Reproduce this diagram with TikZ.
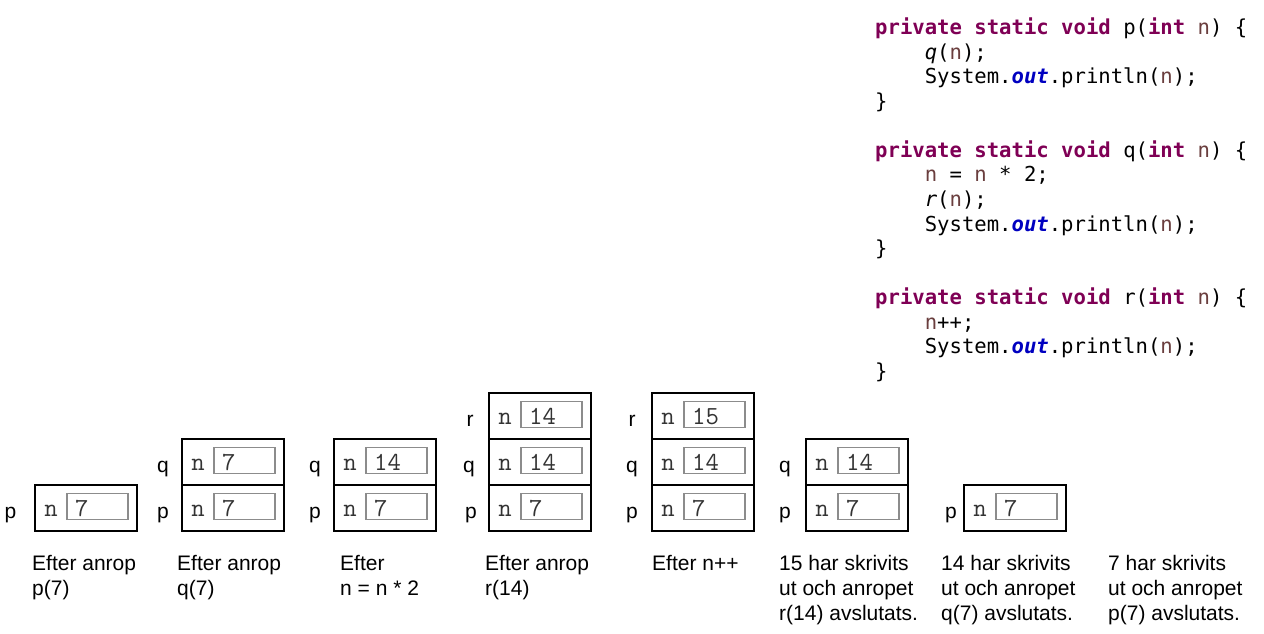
\documentclass[tikz,border=0pt]{standalone}
\usepackage{fontspec}
\setmainfont{Liberation Sans}
\newfontfamily\codefont{DejaVu Sans Mono}
\definecolor{kwc}{HTML}{7F0055}
\definecolor{varc}{HTML}{6A3E3E}
\definecolor{outc}{HTML}{0000C0}
\definecolor{boxgray}{HTML}{8C8C8C}
\newcommand\kw[1]{\textcolor{kwc}{\bfseries #1}}
\newcommand\vn{\textcolor{varc}{n}}
\newcommand\outw{\textcolor{outc}{\bfseries\itshape out}}
\newcommand\ind{\phantom{0000}}
\begin{document}
\begin{tikzpicture}[x=1pt,y=-1pt,
  frm/.style={draw=black, line width=1.3pt, minimum width=102pt, minimum height=46pt, inner sep=0pt, outer sep=0pt},
  valbox/.style={draw=boxgray, line width=1.2pt, minimum width=61pt, minimum height=26pt, inner sep=0pt, outer sep=0pt},
  ntext/.style={font=\ttfamily\fontsize{26}{26}\selectfont, inner sep=0pt, text=black!80},
  valtext/.style={font=\ttfamily\fontsize{26}{26}\selectfont, inner sep=0pt, text=black!80},
  lbl/.style={font=\fontsize{21}{21}\selectfont, inner sep=0pt},
  captext/.style={font=\fontsize{21}{25}\selectfont, align=left, inner sep=0pt, anchor=base west},
  codetext/.style={font=\codefont\fontsize{20.6}{24.57}\selectfont, align=left, inner sep=0pt, anchor=base west}]
\path[use as bounding box] (0,0) rectangle (1264,633);

% code (anchor = baseline of the last line)
\node[codetext] (codep) at (875,108.2) {\kw{private} \kw{static} \kw{void} p(\kw{int} \vn) \{\\
\ind\textit{q}(\vn);\\
\ind System.\outw.println(\vn);\\
\}};
\node[codetext] (codeq) at (875,255.7) {\kw{private} \kw{static} \kw{void} q(\kw{int} \vn) \{\\
\ind\vn{} = \vn{} * 2;\\
\ind\textit{r}(\vn);\\
\ind System.\outw.println(\vn);\\
\}};
\node[codetext] (coder) at (875,378.5) {\kw{private} \kw{static} \kw{void} r(\kw{int} \vn) \{\\
\ind\vn++;\\
\ind System.\outw.println(\vn);\\
\}};

% stacks
\foreach \nm/\x/\y/\v/\lx/\lab in {
  a1p/35/485/7/10.5/p,
  a2q/182/439/7/163/q, a2p/182/485/7/163/p,
  a3q/334/439/14/315/q, a3p/334/485/7/315/p,
  a4r/489/393/14/470/r, a4q/489/439/14/469/q, a4p/489/485/7/471/p,
  a5r/652/393/15/632/r, a5q/652/439/14/632/q, a5p/652/485/7/632/p,
  a6q/806/439/14/785/q, a6p/806/485/7/785/p,
  a7p/964/485/7/951/p}{
  \node[frm, anchor=north west] (\nm) at (\x,\y) {};
  \node[valbox, anchor=north west] (\nm v) at (\x+32,\y+8.5) {};
  \node[ntext, anchor=base] (\nm n) at (\x+16,\y+31) {n};
  \node[valtext, anchor=base west] (\nm t) at (\x+40,\y+31) {\v};
  \node[lbl, anchor=base] (\nm l) at (\lx,\y+33) {\lab};
}

% captions (anchor = baseline of the last line)
\node[captext] (c1) at (32,595) {Efter anrop\\p(7)};
\node[captext] (c2) at (177,595) {Efter anrop\\q(7)};
\node[captext] (c3) at (340,595) {Efter\\n = n * 2};
\node[captext] (c4) at (485,595) {Efter anrop\\r(14)};
\node[captext] (c5) at (652,570) {Efter n++};
\node[captext] (c6) at (779,620) {15 har skrivits\\ut och anropet\\r(14) avslutats.};
\node[captext] (c7) at (941,620) {14 har skrivits\\ut och anropet\\q(7) avslutats.};
\node[captext] (c8) at (1108,620) {7 har skrivits\\ut och anropet\\p(7) avslutats.};
\end{tikzpicture}
\end{document}
